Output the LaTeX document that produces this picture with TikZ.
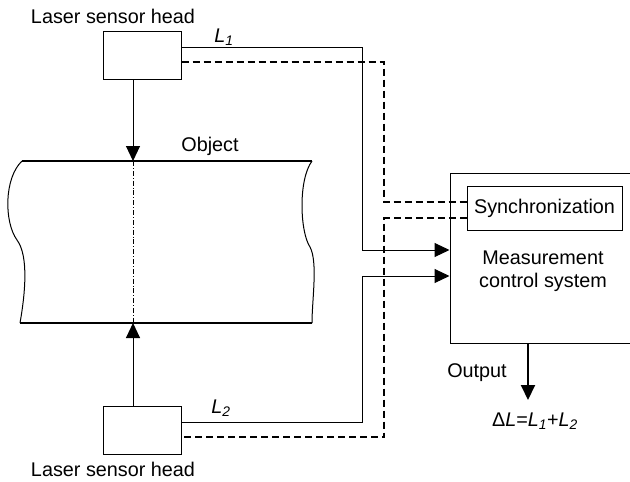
\documentclass[tikz,border=0pt]{standalone}
\usepackage{fontspec}
\setmainfont{Liberation Sans}
\usetikzlibrary{arrows.meta, positioning}

\begin{document}
\begin{tikzpicture}[
    x=1pt, y=-1pt,
    line width=1pt,
    font=\fontsize{19.8}{23}\selectfont,
    head box/.style={rectangle, draw, minimum width=78pt, minimum height=48pt, inner sep=0pt},
    sync box/.style={rectangle, draw, minimum width=155pt, minimum height=44pt, inner sep=0pt},
    plain text/.style={inner sep=0pt},
    sig arrow/.style={-{Triangle[length=15pt, width=14pt]}},
    sync line/.style={line width=1.5pt, dash pattern=on 7pt off 4pt},
    object edge/.style={line width=2pt}
]
    \clip (0,0) rectangle (630,482);

    % --- Sensor heads ---
    \node[head box] (Head1) at (142,55) {};
    \node[head box] (Head2) at (142,430) {};
    \node[plain text] (HeadLabel1) at (113,16) {Laser sensor head};
    \node[plain text] (HeadLabel2) at (113,469) {Laser sensor head};

    % --- Object ---
    \coordinate (ObjTop) at (133,161);
    \coordinate (ObjBot) at (133,323);
    \draw[object edge] (22,161) -- (312,161);
    \draw[object edge] (20,323) -- (312,323);
    \draw (22,161) .. controls (4,178) and (4,222) .. (17,240)
                   .. controls (29,256) and (25,295) .. (20,323);
    \draw (312,161) .. controls (298,180) and (300,232) .. (310,247)
                    .. controls (318,262) and (312,300) .. (312,323);
    \draw[line width=0.6pt, dash pattern=on 5pt off 2pt on 0.8pt off 2pt] (ObjTop) -- (ObjBot);
    \node[plain text] (ObjLabel) at (210,146) {Object};

    \draw[sig arrow] (ObjTop |- Head1.south) -- (ObjTop);
    \draw[sig arrow] (ObjBot |- Head2.north) -- (ObjBot);

    % --- Measurement control system ---
    \node[rectangle, draw, minimum width=260pt, minimum height=170pt, inner sep=0pt] (MCS) at (580,258) {};
    \node[sync box] (Sync) at (544.5,208) {Synchronization};
    \node[plain text, align=center] (MCSLabel) at (543,271) {Measurement\\control system};

    % --- Signals ---
    \draw[sig arrow] ([yshift=8pt]Head1.east) -| (362,250) -- (MCS.west |- 0,250);
    \draw[sig arrow] ([yshift=8pt]Head2.east) -| (362,276) -- (MCS.west |- 0,276);
    \node[plain text] (L1) at (224,37) {\textit{L\textsubscript{1}}};
    \node[plain text] (L2) at (221,408) {\textit{L\textsubscript{2}}};

    \draw[sync line] ([yshift=-7pt]Head1.east) -| (384,202) -- ([yshift=6pt]Sync.west);
    \draw[sync line] ([yshift=-10pt]Sync.west) -- (384,218) |- ([yshift=-7pt]Head2.east);

    % --- Output ---
    \coordinate (OutTip) at (528,400);
    \draw[sig arrow, line width=2pt] (OutTip |- MCS.south) -- (OutTip);
    \node[plain text] (OutLabel) at (477,373) {Output};
    \node[plain text] (Result) at (535,421) {Δ\textit{L}=\textit{L\textsubscript{1}}+\textit{L\textsubscript{2}}};
\end{tikzpicture}
\end{document}
